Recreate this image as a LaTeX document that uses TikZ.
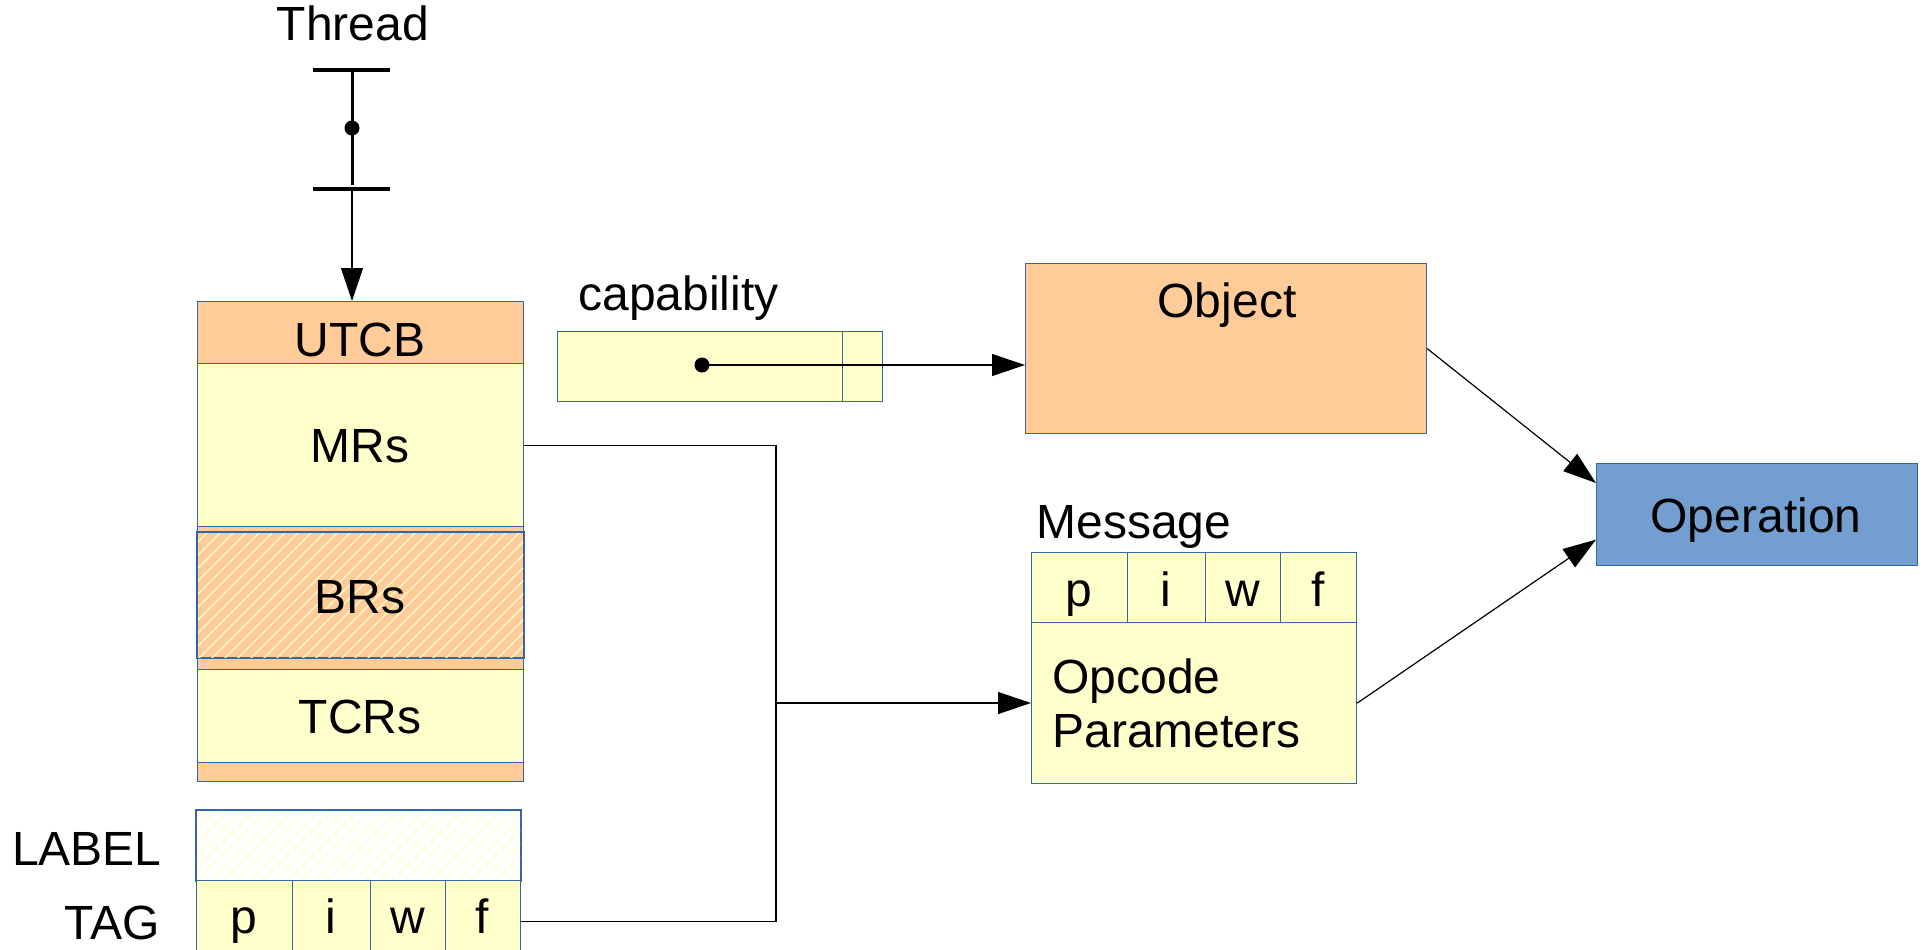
\documentclass[tikz,border=0pt]{standalone}
\usepackage{fontspec}
\setmainfont{Liberation Sans}
\usetikzlibrary{arrows.meta,calc}
\definecolor{orng}{HTML}{FFCC99}
\definecolor{ylw}{HTML}{FFFFCC}
\definecolor{opblue}{HTML}{729FCF}
\definecolor{edge}{HTML}{3465A4}
\begin{document}
\begin{tikzpicture}[x=0.5pt,y=-0.5pt,
  box/.style={draw=edge,line width=0.6pt,inner sep=0,anchor=north west},
  txt/.style={inner sep=0,font=\fontsize{24}{28}\selectfont},
  conn/.style={line width=0.6pt},
  arr/.style={-{Triangle[length=16.5pt,width=11pt]}},
  hatchline/.style={ylw,line width=0.6pt}]
\useasboundingbox (0,0) rectangle (1923,949);

% Thread symbol
\node[txt,anchor=base] (thread) at (353,40) {Thread};
\coordinate (tt) at (352,70);
\coordinate (tb) at (352,189);
\draw[line width=1.6pt] (313,70) -- (390,70);
\draw[line width=1.6pt] (313,189) -- (390,189);
\draw[line width=1.5pt] (tt) -- (352,185);
\node[circle,fill,minimum size=7.5pt,inner sep=0] (tdot) at (352,128) {};

% UTCB stack
\node[box,fill=orng,minimum width=163pt,minimum height=240pt] (stack) at (197,301) {};
\node[box,fill=orng,minimum width=163pt,minimum height=31pt] (utcb) at (197,301) {};
\node[box,fill=ylw,minimum width=163pt,minimum height=81.5pt] (mrs) at (197,363) {};
\node[box,fill=orng,minimum width=163pt,minimum height=62.5pt] (brs) at (197,532) {};
\begin{scope}
  \clip ([shift={(1,-1)}]brs.south west) rectangle ([shift={(-1,1)}]brs.north east);
  \foreach \k in {-12,...,27} \draw[hatchline] (197+13*\k,660) -- ++(200,-200);
\end{scope}
\draw[draw=edge,line width=0.6pt] (brs.south west) rectangle (brs.north east);
\node[box,fill=ylw,minimum width=163pt,minimum height=46.5pt] (tcrs) at (197,669) {};

\node[txt,anchor=base] (tutcb) at (360,356) {UTCB};
\node[txt,anchor=base] (tmrs) at (360,462) {MRs};
\node[txt,anchor=base] (tbrs) at (360,613) {BRs};
\node[txt,anchor=base] (ttcrs) at (360,733) {TCRs};

% LABEL / TAG
\node[box,fill=white,minimum width=162pt,minimum height=35pt] (lbl) at (196,810) {};
\begin{scope}
  \clip ([shift={(1,-1)}]lbl.south west) rectangle ([shift={(-1,1)}]lbl.north east);
  \foreach \k in {-8,...,27} \draw[hatchline] (196+13*\k,882) -- ++(120,-120);
\end{scope}
\draw[draw=edge,line width=0.6pt] (lbl.south west) rectangle (lbl.north east);
\node[box,fill=ylw,minimum width=48pt,minimum height=41pt] (tagp) at (196,880) {};
\node[box,fill=ylw,minimum width=39pt,minimum height=41pt] (tagi) at (292,880) {};
\node[box,fill=ylw,minimum width=37.5pt,minimum height=41pt] (tagw) at (370,880) {};
\node[box,fill=ylw,minimum width=37.5pt,minimum height=41pt] (tagf) at (445,880) {};
\node[txt,anchor=base] (ttp) at (244,933) {p};
\node[txt,anchor=base] (tti) at (331,933) {i};
\node[txt,anchor=base] (ttw) at (407.5,933) {w};
\node[txt,anchor=base] (ttf) at (482.5,933) {f};
\node[txt,anchor=base east] (tlabel) at (162,865) {LABEL};
\node[txt,anchor=base east] (ttag) at (160,939) {TAG};

% capability
\node[txt,anchor=base west] (tcap) at (578,310) {capability};
\node[box,fill=ylw,minimum width=142.5pt,minimum height=35pt] (cap) at (557,331) {};
\node[box,fill=ylw,minimum width=20pt,minimum height=35pt] (capend) at (842,331) {};
\node[circle,fill,minimum size=7.5pt,inner sep=0] (capdot) at (702,365) {};

% Object
\node[box,fill=orng,minimum width=200.5pt,minimum height=85pt] (obj) at (1025,263) {};
\node[txt,anchor=base] (tobj) at (1227,317) {Object};

% Message
\node[txt,anchor=base west] (tmsg) at (1036,538) {Message};
\node[box,fill=ylw,minimum width=48pt,minimum height=35pt] (mp) at (1031,552) {};
\node[box,fill=ylw,minimum width=39pt,minimum height=35pt] (mi) at (1127,552) {};
\node[box,fill=ylw,minimum width=37.5pt,minimum height=35pt] (mw) at (1205,552) {};
\node[box,fill=ylw,minimum width=38pt,minimum height=35pt] (mf) at (1280,552) {};
\node[txt,anchor=base] (tmp) at (1079,606) {p};
\node[txt,anchor=base] (tmi) at (1166,606) {i};
\node[txt,anchor=base] (tmw) at (1242.5,606) {w};
\node[txt,anchor=base] (tmf) at (1318,606) {f};
\node[box,fill=ylw,minimum width=162.5pt,minimum height=80.5pt] (body) at (1031,622) {};
\node[txt,anchor=base west] (topc) at (1052,693) {Opcode};
\node[txt,anchor=base west] (tpar) at (1052,747) {Parameters};

% Operation
\node[box,fill=opblue,minimum width=160.5pt,minimum height=51pt] (op) at (1596,463) {};
\node[txt,anchor=base] (top) at (1756,532) {Operation};

% Connectors
\draw[conn,arr] (tb) -- (tb |- utcb.north);
\draw[conn,arr] (capdot.center) -- (capdot.center -| obj.west);
\draw[conn,arr] (obj.east) -- ([yshift=-10pt]op.north west);
\draw[conn,arr] (body.east) -- ([yshift=-12.5pt]op.west);
\coordinate (j) at (776,703);
\draw[conn] (mrs.east) -| (j);
\draw[conn] (tagf.east) -| (j);
\draw[conn,arr] (j) -- (j -| body.west);
\end{tikzpicture}
\end{document}
